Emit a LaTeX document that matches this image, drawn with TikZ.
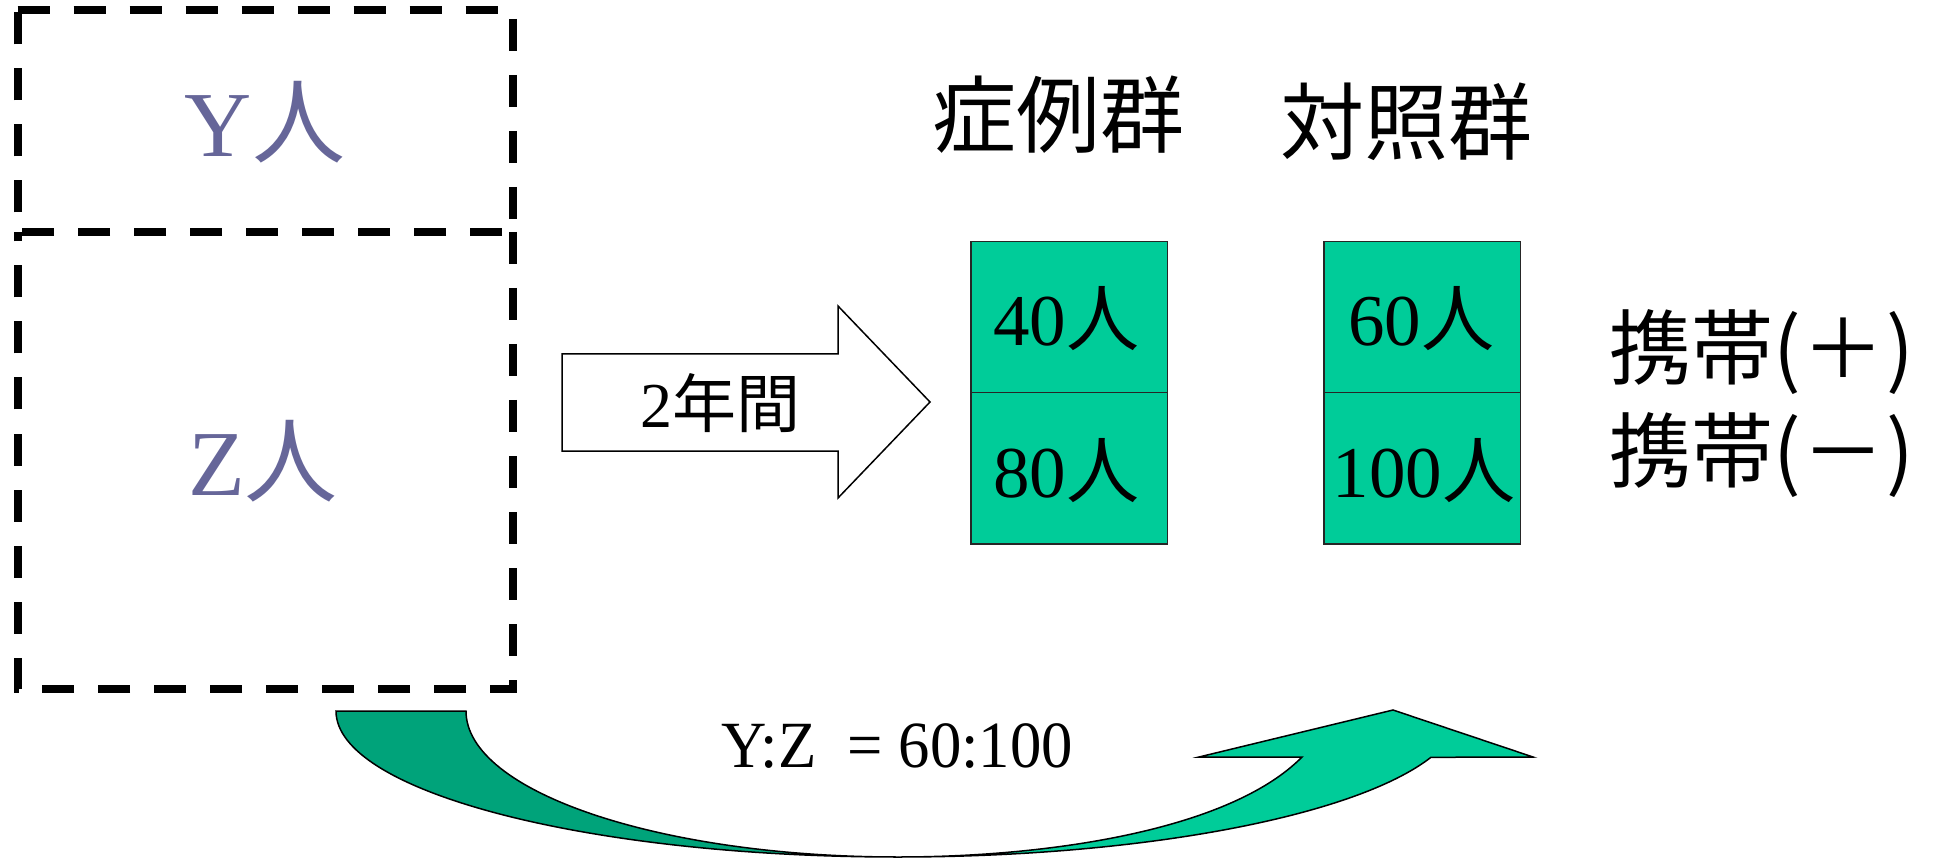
\documentclass[tikz,border=0pt]{standalone}
\usepackage{fontspec}
\usepackage{graphicx}
\setmainfont{Liberation Serif}
\newfontfamily\cjk{Noto Sans CJK JP}
\definecolor{boxgreen}{RGB}{0,204,153}
\definecolor{darkgreen}{RGB}{0,163,122}
\definecolor{slate}{RGB}{102,102,153}
\newcommand{\setfs}[1]{\fontsize{#1}{#1}\selectfont}
\begin{document}
\begin{tikzpicture}[x=1pt,y=-1pt,
  region/.style={minimum width=495.5pt, inner sep=0pt, outer sep=0pt, anchor=north west},
  dashline/.style={draw=black, line width=8pt, dash pattern=on 32pt off 24pt},
  cell/.style={draw=black!85, line width=1.5pt, fill=boxgreen,
    minimum width=196.5pt, minimum height=151pt, inner sep=0pt, anchor=north west},
  lbl/.style={inner sep=0pt, anchor=base},
  outline/.style={draw=black, line width=1.5pt}
]
\useasboundingbox (0,0) rectangle (1933,858);

% dashed boxes
\node[region, minimum height=221.5pt] (ybox) at (17.5,10.5) {};
\node[region, minimum height=457pt] (zbox) at (17.5,232) {};
\draw[dashline] (ybox.north west) -- (ybox.north east) -- (ybox.south east)
  -- (ybox.south west) -- cycle;
\draw[dashline] (zbox.north east) -- (zbox.south east) -- (zbox.south west) -- (zbox.north west);
\node[lbl, text=slate] (ytext) at (265,157) {\setfs{93}Y{\cjk 人}};
\node[lbl, text=slate] (ztext) at (263,495) {\setfs{93}Z{\cjk 人}};

% block arrow
\draw[outline, fill=white] (562,354) -- (838,354) -- (838,306) -- (930,402)
  -- (838,498) -- (838,451) -- (562,451) -- cycle;
\node[lbl] (years) at (720,428) {\setfs{64}2{\cjk 年間}};

% headings
\node[inner sep=0pt] (case) at (1058,115) {\cjk\setfs{84}症例群};
\node[inner sep=0pt] (ctrl) at (1406,122) {\cjk\setfs{84}対照群};

% cells
\node[cell] (c1) at (970,241) {};
\node[cell] (c2) at (970,392) {};
\node[cell] (c3) at (1323,241) {};
\node[cell] (c4) at (1323,392) {};
\node[lbl] (t1) at (1066,346) {\setfs{73}40{\cjk 人}};
\node[lbl] (t2) at (1066,497) {\setfs{73}80{\cjk 人}};
\node[lbl] (t3) at (1421,346) {\setfs{73}60{\cjk 人}};
\node[lbl] (t4) at (1424,497) {\setfs{73}100{\cjk 人}};

% right labels
\node[inner sep=0pt, anchor=west] (plus) at (1609,352) {\cjk\setfs{82}携帯(\kern2pt＋\kern2pt)};
\node[inner sep=0pt, anchor=west] (minus) at (1609,455) {\cjk\setfs{82}携帯(\kern2pt－\kern2pt)};

% curved arrow
\path[outline, fill=boxgreen] (898,857)
  arc[start angle=90, end angle=18.5, x radius=562, y radius=146]
  -- (1533,757) -- (1393,710) -- (1199,757) -- (1302,757)
  .. controls (1230,830) and (1050,857) .. (898,857) -- cycle;
\path[outline, fill=darkgreen] (336,711) -- (466,711)
  arc[start angle=180, end angle=90, x radius=432, y radius=146]
  arc[start angle=90, end angle=180, x radius=562, y radius=146] -- cycle;
\node[lbl] (ratio) at (897,767) {\setfs{66}\scalebox{0.95}[1]{Y:Z\ \ = 60:100}};
\end{tikzpicture}
\end{document}
